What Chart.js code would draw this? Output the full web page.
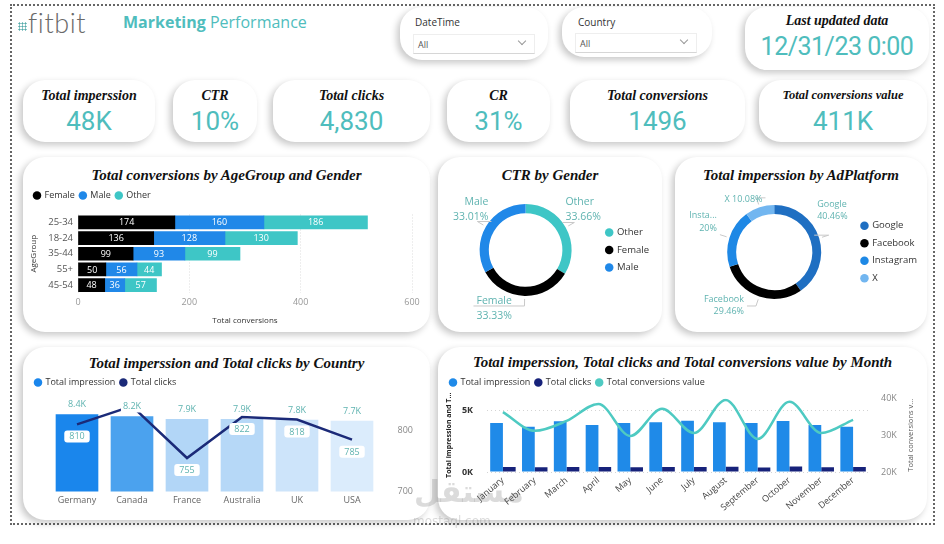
<!DOCTYPE html>
<html><head><meta charset="utf-8"><title>Marketing Performance</title>
<script src="https://cdn.jsdelivr.net/npm/chart.js@4.4.1/dist/chart.umd.min.js"></script>
<style>
html,body{margin:0;padding:0;background:#fff;}
body{width:944px;height:544px;position:relative;overflow:hidden;font-family:'Open Sans',sans-serif;}
.frame{position:absolute;left:10px;top:4px;width:925px;height:521px;border:2px dotted #666;box-sizing:border-box;}
.card{position:absolute;background:#fff;border-radius:22px;box-shadow:-3px 3px 7px rgba(0,0,0,.22);}
.ttl{position:absolute;left:0;right:0;text-align:center;font-family:'Liberation Serif','Times New Roman',serif;font-weight:bold;font-style:italic;color:#111;white-space:nowrap;}
.ct{font-size:15px;line-height:18px;}
.kt{top:8px;font-size:14px;line-height:16px;}
.kv{position:absolute;left:0;right:0;top:26px;text-align:center;font-family:Roboto,sans-serif;color:#4fbdbd;font-size:26px;line-height:30px;}
canvas{position:absolute;}
.logo{position:absolute;left:18px;top:11px;height:28px;}
.logo .dots{position:absolute;left:0;top:11px;width:9px;height:9px;background-image:radial-gradient(circle,#5aa 0.9px,transparent 1.2px);background-size:3px 3px;}
.logo span{position:absolute;left:10px;top:-5px;font-family:Lato,sans-serif;font-size:27px;color:#6a6a6a;font-weight:300;letter-spacing:0.6px;}
.brand{position:absolute;left:123px;top:11px;font-family:'Open Sans',sans-serif;font-size:16px;color:#4fbdbd;white-space:nowrap;}
.brand b{font-weight:700;}
.sl{position:absolute;font-size:10px;color:#333;}
.dd{position:absolute;border:1px solid #eee;border-bottom:1px solid #d6d6d6;height:18px;}
.dd span{position:absolute;left:4px;top:3px;font-size:9px;color:#555;}
.dd i{position:absolute;right:9px;top:3px;width:5px;height:5px;border-right:1px solid #999;border-bottom:1px solid #999;transform:rotate(45deg);}
.wm{position:absolute;color:rgba(110,110,110,.25);white-space:nowrap;font-family:'DejaVu Sans',sans-serif;}
</style></head>
<body>
<div class="frame"></div>
<div class="logo"><div class="dots"></div><span>fitbit</span></div>
<div class="brand"><b>Marketing</b> Performance</div>

<div class="card" style="left:400px;top:7px;width:148px;height:53px">
  <div class="sl" style="left:15px;top:8px">DateTime</div>
  <div class="dd" style="left:13px;top:27px;width:120px"><span>All</span><i></i></div>
</div>
<div class="card" style="left:562px;top:7px;width:150px;height:50px">
  <div class="sl" style="left:16px;top:8px">Country</div>
  <div class="dd" style="left:13px;top:26px;width:120px"><span>All</span><i></i></div>
</div>
<div class="card" style="left:745px;top:7px;width:184px;height:63px">
  <div class="ttl" style="top:6px;font-size:14px;line-height:16px">Last updated data</div>
  <div class="kv" id="lastUpd" style="top:25px;font-size:25px;letter-spacing:-0.5px"></div>
</div>

<div id="kpis"></div>

<div class="card" style="left:23px;top:157px;width:407px;height:175px"><div class="ttl ct" style="top:9px">Total conversions by AgeGroup and Gender</div></div>
<div class="card" style="left:438px;top:157px;width:224px;height:175px"><div class="ttl ct" style="top:9px">CTR by Gender</div></div>
<div class="card" style="left:675px;top:157px;width:252px;height:175px"><div class="ttl ct" style="top:9px">Total imperssion by AdPlatform</div></div>
<div class="card" style="left:23px;top:347px;width:407px;height:173px"><div class="ttl ct" style="top:7px">Total imperssion and Total clicks by Country</div></div>
<div class="card" style="left:438px;top:347px;width:489px;height:173px"><div class="ttl ct" style="top:6px">Total imperssion, Total clicks and Total conversions value by Month</div></div>

<canvas id="ageChart" width="400" height="140" style="left:25px;top:186px"></canvas>
<canvas id="genderChart" width="220" height="145" style="left:440px;top:185px"></canvas>
<canvas id="platformChart" width="252" height="145" style="left:677px;top:185px"></canvas>
<canvas id="countryChart" width="400" height="143" style="left:25px;top:372px"></canvas>
<canvas id="monthChart" width="485" height="148" style="left:440px;top:372px"></canvas>

<div class="wm" style="left:414px;top:474px;font-size:30px;font-weight:bold">مستقل</div>
<div class="wm" style="left:413px;top:514px;font-size:12px">mostaql.com</div>

<script>
// ===== DATA =====
const kpiTitles = ['Total imperssion','CTR','Total clicks','CR','Total conversions','Total conversions value'];
const kpiValues = ['48K','10%','4,830','31%','1496','411K'];
const lastUpdated = '12/31/23 0:00';

const ageGroups = ['25-34','18-24','35-44','55+','45-54'];
const convFemale = [174,136,99,50,48];
const convMale   = [160,128,93,56,36];
const convOther  = [186,130,99,44,57];

const genderLabels = ['Other','Female','Male'];
const genderCtrShare = [33.66,33.33,33.01];

const platformLabels = ['Google','Facebook','Instagram','X'];
const platformShare = [40.46,29.46,20.00,10.08];

const countries = ['Germany','Canada','France','Australia','UK','USA'];
const countryImpressions = [8400,8200,7900,7900,7800,7700];
const countryClicks = [810,840,755,822,818,785];

const months = ['January','February','March','April','May','June','July','August','September','October','November','December'];
const monthImpressions = [4000,3700,4140,3830,4000,4060,4190,4060,4000,4170,3830,3690];
const monthClicks      = [410,380,400,400,395,405,410,430,370,440,385,405];
const monthConvValue   = [36300,31200,33900,38500,29800,37200,30600,39600,29000,39100,30600,34200];

// ===== KPI cards =====
const kpiBoxes = [[23,132],[173,84],[273,157],[447,103],[570,175],[759,168]];
const kpiWrap = document.getElementById('kpis');
kpiTitles.forEach((t,i)=>{
  const d=document.createElement('div'); d.className='card';
  d.style.cssText=`left:${kpiBoxes[i][0]}px;top:80px;width:${kpiBoxes[i][1]}px;height:62px`;
  const small = t.length>20 ? 'font-size:12.5px;top:7px;' : '';
  d.innerHTML=`<div class="ttl kt" style="${small}">${t}</div><div class="kv">${kpiValues[i]}</div>`;
  kpiWrap.appendChild(d);
});
document.getElementById('lastUpd').textContent = lastUpdated;

// ===== Chart.js setup =====
Chart.defaults.font.family = "'Open Sans', sans-serif";
Chart.defaults.color = '#555';
Chart.defaults.animation = false;

const TEAL_TXT = '#5fb3b0';
const baseGen = Chart.defaults.plugins.legend.labels.generateLabels;
const legendCfg = (size, pad) => ({display:true, position:'top', align:'start',
  labels:{usePointStyle:true, pointStyle:'circle', boxWidth:6, boxHeight:6, padding:pad, color:'#333', font:{size:size},
          generateLabels:(chart)=>baseGen(chart).map(l=>Object.assign(l,{lineWidth:0, strokeStyle:l.fillStyle, pointStyle:'circle'})),
          sort:(a,b)=>a.datasetIndex-b.datasetIndex}});
const legendGap = (extra) => ({id:'legendGap', beforeInit(chart){
  const orig = chart.legend.fit;
  chart.legend.fit = function(){ orig.call(this); this.height += extra; };
}});

const segLabels = {id:'segLabels', afterDatasetsDraw(chart){
  const ctx=chart.ctx; ctx.save();
  ctx.font='9px "Open Sans"'; ctx.fillStyle='#fff'; ctx.textAlign='center'; ctx.textBaseline='middle';
  chart.data.datasets.forEach((ds,i)=>{
    chart.getDatasetMeta(i).data.forEach((el,j)=>{ ctx.fillText(String(ds.data[j]), (el.x+el.base)/2, el.y+0.5); });
  });
  ctx.restore();
}};

const fmtPct = v => (+v.toFixed(2)) + '%';
const donutLabels = {id:'donutLabels', afterDraw(chart, args, o){
  const ctx=chart.ctx; const meta=chart.getDatasetMeta(0); const ds=chart.data.datasets[0];
  ctx.save(); ctx.font = o.size+'px "Open Sans"'; ctx.textBaseline='middle';
  meta.data.forEach((arc,i)=>{
    const mid=(arc.startAngle+arc.endAngle)/2;
    const R=arc.outerRadius+10;
    const ax=arc.x+Math.cos(mid)*R, ay=arc.y+Math.sin(mid)*R;
    const off=o.offsets[i];
    const tx=ax+off.dx, ty=ay+off.dy;
    const lines=o.text(chart.data.labels[i], ds.data[i], i);
    ctx.strokeStyle='#c9c9c9'; ctx.lineWidth=1; ctx.beginPath();
    ctx.moveTo(arc.x+Math.cos(mid)*(arc.outerRadius+3), arc.y+Math.sin(mid)*(arc.outerRadius+3));
    ctx.lineTo(ax, ay);
    ctx.lineTo(tx + (off.align==='left' ? -3 : 3), ay);
    ctx.stroke();
    ctx.fillStyle=TEAL_TXT; ctx.textAlign=off.align;
    lines.forEach((t,k)=>ctx.fillText(t, tx, ty+k*o.lineH));
  });
  ctx.restore();
}};

function rrect(ctx,x,y,w,h,r){ctx.beginPath();ctx.moveTo(x+r,y);ctx.arcTo(x+w,y,x+w,y+h,r);ctx.arcTo(x+w,y+h,x,y+h,r);ctx.arcTo(x,y+h,x,y,r);ctx.arcTo(x,y,x+w,y,r);ctx.closePath();}
const fmtK = v => (v/1000).toFixed(1)+'K';
const countryLabels = {id:'countryLabels', afterDatasetsDraw(chart){
  const ctx=chart.ctx; ctx.save();
  ctx.font='9px "Open Sans"'; ctx.textAlign='center'; ctx.textBaseline='middle';
  const bars=chart.getDatasetMeta(0).data, pts=chart.getDatasetMeta(1).data;
  const d0=chart.data.datasets[0].data, d1=chart.data.datasets[1].data;
  const boxes=[];
  bars.forEach((b,i)=>{
    const t=fmtK(d0[i]); const w=ctx.measureText(t).width+4; const y=b.y-10;
    ctx.fillStyle='#fff'; ctx.fillRect(b.x-w/2,y-6,w,12);
    ctx.fillStyle=TEAL_TXT; ctx.fillText(t,b.x,y);
    boxes.push({x1:b.x-w/2,x2:b.x+w/2,y1:y-7,y2:y+7});
  });
  pts.forEach((p,i)=>{
    const t=String(d1[i]); const w=ctx.measureText(t).width+10, h=12, y=p.y+12;
    const bx={x1:p.x-w/2,x2:p.x+w/2,y1:y-h/2,y2:y+h/2};
    if(boxes.some(b=>!(bx.x2<b.x1||bx.x1>b.x2||bx.y2<b.y1||bx.y1>b.y2))) return;
    ctx.fillStyle='#fff'; rrect(ctx,bx.x1,bx.y1,w,h,3); ctx.fill();
    ctx.fillStyle=TEAL_TXT; ctx.fillText(t,p.x,y+0.5);
  });
  ctx.restore();
}};

const sideTitle = {id:'sideTitle', afterDraw(chart, args, o){
  if(!o.text) return; const ctx=chart.ctx, ca=chart.chartArea;
  ctx.save(); ctx.translate(o.x,(ca.top+ca.bottom)/2); ctx.rotate(-Math.PI/2);
  ctx.font=o.font; ctx.fillStyle=o.color; ctx.textAlign='center'; ctx.textBaseline='middle';
  ctx.fillText(o.text,0,0); ctx.restore();
}};

// ===== Age group stacked bars =====
new Chart(document.getElementById('ageChart'), {
  type:'bar',
  data:{labels:ageGroups, datasets:[
    {label:'Female', data:convFemale, backgroundColor:'#000000'},
    {label:'Male', data:convMale, backgroundColor:'#2088e8'},
    {label:'Other', data:convOther, backgroundColor:'#3ec6c6'}]},
  options:{
    indexAxis:'y', responsive:false, devicePixelRatio:1,
    layout:{padding:{left:4,right:13,top:0,bottom:0}},
    datasets:{bar:{barThickness:13, borderWidth:0}},
    scales:{
      x:{stacked:true, min:0, max:600,
         ticks:{stepSize:200, color:'#999', font:{size:9}, padding:4},
         grid:{color:'#dcdcdc', drawTicks:false}, border:{display:false, dash:[1,2]},
         title:{display:true, text:'Total conversions', color:'#333', font:{size:8}, padding:{top:3,bottom:0}},
         afterFit(s){ s.height=33; }},
      y:{stacked:true, ticks:{color:'#555', font:{size:9.5}, padding:5},
         grid:{display:false, drawTicks:false}, border:{display:false},
         title:{display:true, text:'AgeGroup', color:'#333', font:{size:8}, padding:0},
         afterFit(s){ s.width=49; }}
    },
    plugins:{legend:legendCfg(9,5), tooltip:{enabled:false}}
  },
  plugins:[legendGap(4.5), segLabels]
});

// ===== CTR by gender donut =====
new Chart(document.getElementById('genderChart'), {
  type:'doughnut',
  data:{labels:genderLabels, datasets:[{data:genderCtrShare, backgroundColor:['#3ec6c6','#000000','#2088e8'], borderWidth:0}]},
  options:{
    responsive:false, devicePixelRatio:1, radius:46, cutout:'80%',
    layout:{padding:{left:13,right:1,top:0,bottom:15}},
    plugins:{
      legend:{position:'right', align:'center', labels:{usePointStyle:true, pointStyle:'circle', boxWidth:6, boxHeight:6, padding:8, color:'#333', font:{size:9.5}}},
      tooltip:{enabled:false},
      donutLabels:{size:10.5, lineH:15,
        text:(l,v)=>[l, fmtPct(v)],
        offsets:[{dx:-9,dy:-20.5,align:'left'},{dx:-48,dy:-5,align:'left'},{dx:11,dy:-19.5,align:'right'}]}
    }
  },
  plugins:[donutLabels]
});

// ===== Impression by platform donut =====
new Chart(document.getElementById('platformChart'), {
  type:'doughnut',
  data:{labels:platformLabels, datasets:[{data:platformShare, backgroundColor:['#1f6fc2','#000000','#1e88e5','#72b6f0'], borderWidth:0}]},
  options:{
    responsive:false, devicePixelRatio:1, radius:47, cutout:'81%',
    layout:{padding:{left:18,right:2,top:0,bottom:11}},
    plugins:{
      legend:{position:'right', align:'center', labels:{usePointStyle:true, pointStyle:'circle', boxWidth:6, boxHeight:6, padding:8, color:'#333', font:{size:9.5}}},
      tooltip:{enabled:false},
      donutLabels:{size:9, lineH:12.5,
        text:(l,v,i)=> l.length<=2 ? [l+' '+fmtPct(v)] : [l.length>8 ? l.slice(0,5)+'...' : l, fmtPct(v)],
        offsets:[{dx:-11.5,dy:-31,align:'left'},{dx:-12,dy:-7,align:'right'},{dx:-3,dy:-19,align:'right'},{dx:6,dy:2,align:'right'}]}
    }
  },
  plugins:[donutLabels]
});

// ===== Country combo =====
new Chart(document.getElementById('countryChart'), {
  type:'bar',
  data:{labels:countries, datasets:[
    {type:'bar', label:'Total impression', data:countryImpressions, yAxisID:'yImp', order:1,
     backgroundColor:['#1a86ec','#4ba2ee','#b2d6f7','#b6d8f7','#cde4fa','#dbecfc'], barThickness:42},
    {type:'line', label:'Total clicks', data:countryClicks, yAxisID:'yClk', order:0,
     borderColor:'#1b2a78', backgroundColor:'#1b2a78', borderWidth:2.5, pointRadius:0, tension:0}]},
  options:{
    responsive:false, devicePixelRatio:1,
    layout:{padding:{left:5,right:0,top:1,bottom:0}},
    scales:{
      x:{grid:{display:false, drawTicks:false}, border:{display:false},
         ticks:{color:'#666', font:{size:9}, padding:3, maxRotation:0, autoSkip:false},
         afterFit(s){ s.height=20; }},
      yImp:{position:'left', min:0, max:10000, ticks:{display:false}, grid:{display:false, drawTicks:false}, border:{display:false},
         afterFit(s){ s.width=19.5; }},
      yClk:{position:'right', min:700, max:850,
         afterBuildTicks(s){ s.ticks=[{value:700},{value:800}]; },
         ticks:{color:'#888', font:{size:9}, padding:18},
         grid:{display:false, drawTicks:false}, border:{display:false},
         afterFit(s){ s.width=45.5; }}
    },
    plugins:{legend:legendCfg(9,5), tooltip:{enabled:false}}
  },
  plugins:[legendGap(3), countryLabels]
});

// ===== Month combo =====
new Chart(document.getElementById('monthChart'), {
  type:'bar',
  data:{labels:months, datasets:[
    {label:'Total impression', data:monthImpressions, backgroundColor:'#1f8ae8', yAxisID:'yL', order:1},
    {label:'Total clicks', data:monthClicks, backgroundColor:'#17227a', yAxisID:'yL', order:1},
    {type:'line', label:'Total conversions value', data:monthConvValue, yAxisID:'yR', order:0,
     borderColor:'#4ecac2', backgroundColor:'#4ecac2', borderWidth:2.5, pointRadius:0, cubicInterpolationMode:'monotone'}]},
  options:{
    responsive:false, devicePixelRatio:1,
    layout:{padding:{left:5,right:0,top:1,bottom:0}},
    datasets:{bar:{categoryPercentage:0.8, barPercentage:1}},
    scales:{
      x:{grid:{display:false, drawTicks:false}, border:{display:false},
         ticks:{color:'#444', font:{size:9}, padding:3, minRotation:40, maxRotation:40, autoSkip:false},
         afterFit(s){ s.height=48; }},
      yL:{position:'left', min:0, max:6000,
         afterBuildTicks(s){ s.ticks=[{value:0},{value:5000}]; },
         ticks:{color:'#333', font:{size:9, weight:'bold'}, padding:14, callback:v=>(v/1000)+'K'},
         grid:{color:'#d4d4d4', drawTicks:false}, border:{display:false, dash:[1,3]},
         title:{display:true, text:'Total impression and T...', color:'#222', font:{size:7, weight:'bold'}, padding:0},
         afterFit(s){ s.width=42; }},
      yR:{position:'right', min:20000, max:40000,
         ticks:{stepSize:10000, color:'#888', font:{size:9}, padding:12, callback:v=>(v/1000)+'K'},
         grid:{drawOnChartArea:false, drawTicks:false}, border:{display:false},
         afterFit(s){ s.width=56; }}
    },
    plugins:{legend:legendCfg(9,5), tooltip:{enabled:false},
      sideTitle:{text:'Total conversions v...', x:471, font:'7.5px "Open Sans"', color:'#555'}}
  },
  plugins:[legendGap(1.5), sideTitle]
});
</script>
</body></html>
